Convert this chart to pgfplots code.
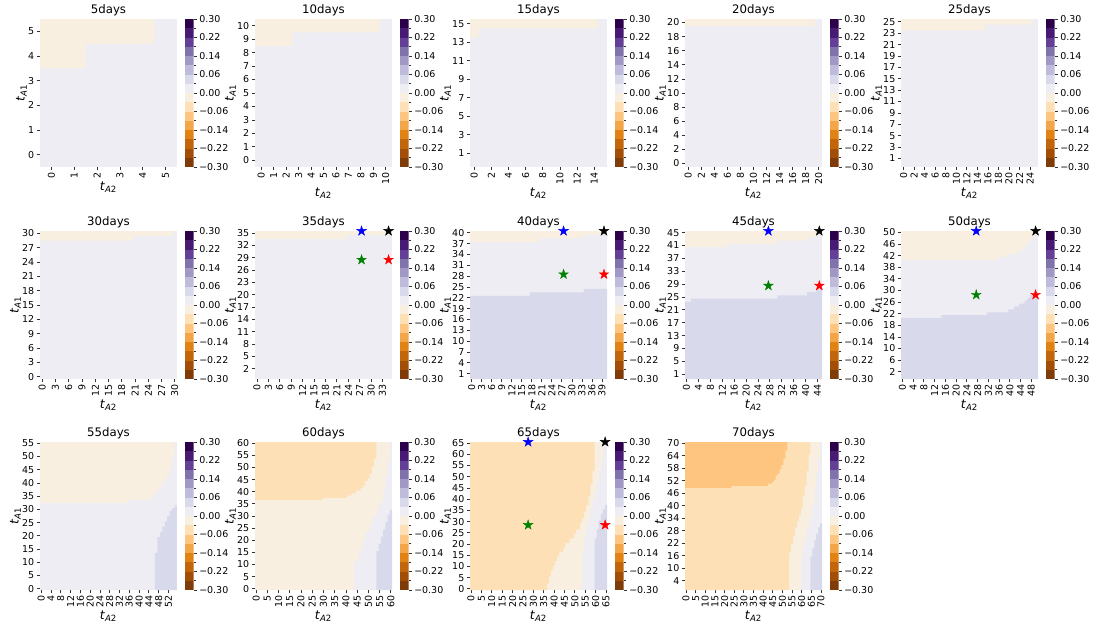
\documentclass[border=0pt]{standalone}
\usepackage{fontspec}
\setmainfont{DejaVu Sans}
\usepackage{pgfplots}
\pgfplotsset{compat=1.18}
% colormap: 16 discrete levels of PuOr, -0.3..0.3
\definecolor{k0}{RGB}{127,59,8}
\definecolor{k1}{RGB}{162,78,7}
\definecolor{k2}{RGB}{194,102,11}
\definecolor{k3}{RGB}{224,130,20}
\definecolor{k4}{RGB}{243,166,73}
\definecolor{k5}{RGB}{253,197,127}
\definecolor{k6}{RGB}{254,224,182}
\definecolor{k7}{RGB}{249,239,225}
\definecolor{k8}{RGB}{237,237,243}
\definecolor{k9}{RGB}{216,218,235}
\definecolor{k10}{RGB}{191,187,218}
\definecolor{k11}{RGB}{161,152,197}
\definecolor{k12}{RGB}{128,115,172}
\definecolor{k13}{RGB}{99,64,149}
\definecolor{k14}{RGB}{71,26,116}
\definecolor{k15}{RGB}{45,0,75}
\newcommand{\tk}{\fontsize{7.1}{8}\selectfont}
\newcommand{\lb}{\fontsize{9.2}{10}\selectfont}
\newcommand{\ti}{\fontsize{8.8}{10}\selectfont}
\newcommand{\ta}[2]{\textit{t}\textsubscript{\textit{#1}#2}}
\pgfdeclareplotmark{fstar}{%
  \pgfpathmoveto{\pgfpointpolar{90}{\pgfplotmarksize}}%
  \pgfpathlineto{\pgfpointpolar{126}{0.382*\pgfplotmarksize}}%
  \pgfpathlineto{\pgfpointpolar{162}{\pgfplotmarksize}}%
  \pgfpathlineto{\pgfpointpolar{198}{0.382*\pgfplotmarksize}}%
  \pgfpathlineto{\pgfpointpolar{234}{\pgfplotmarksize}}%
  \pgfpathlineto{\pgfpointpolar{270}{0.382*\pgfplotmarksize}}%
  \pgfpathlineto{\pgfpointpolar{306}{\pgfplotmarksize}}%
  \pgfpathlineto{\pgfpointpolar{342}{0.382*\pgfplotmarksize}}%
  \pgfpathlineto{\pgfpointpolar{18}{\pgfplotmarksize}}%
  \pgfpathlineto{\pgfpointpolar{54}{0.382*\pgfplotmarksize}}%
  \pgfpathclose\pgfusepathqfillstroke}
\pgfplotsset{
  hm/.style={
    scale only axis, width=102.75pt, height=111pt, anchor=north west,
    enlargelimits=false, clip=false,
    axis background/.style={fill=k8},
    axis line style={draw=none},
    tick align=outside, tick pos=left,
    major tick length=2.6pt,
    tick style={black!80, line width=0.6pt},
    xticklabel style={rotate=90, anchor=east, font=\tk, inner sep=1pt},
    yticklabel style={font=\tk, inner sep=1.5pt},
    /pgf/number format/assume math mode=true,
    xlabel={\ta{A}{2}}, ylabel={\ta{A}{1}},
    label style={font=\lb},
    xlabel style={yshift=2pt}, ylabel style={yshift=-4pt},
    title style={font=\ti, yshift=-7pt},
  },
  reg/.style={draw=none, mark=none, forget plot},
  st/.style={only marks, mark=fstar, mark size=3.8pt, forget plot, mark options={fill=#1, draw=#1, line width=0.3pt}},
  cb/.style={
    scale only axis, width=6.4pt, height=111pt, anchor=north west,
    xmin=0, xmax=1, ymin=-0.3, ymax=0.3, enlargelimits=false,
    xtick=\empty, axis line style={draw=none},
    ytick pos=right, yticklabel pos=right, tick align=outside,
    ytick={-0.3,-0.225,-0.15,-0.075,0,0.075,0.15,0.225,0.3},
    yticklabels={−0.30,−0.22,−0.14,−0.06,0.00,0.06,0.14,0.22,0.30},
    minor ytick={-0.2625,-0.1875,-0.1125,-0.0375,0.0375,0.1125,0.1875,0.2625},
    major tick length=2.6pt, minor tick length=2.2pt,
    tick style={black!80, line width=0.6pt},
    yticklabel style={font=\tk, inner sep=1.5pt},
  },
}
\newcommand{\cbb}{%
\addplot[reg,fill=k0] coordinates {(0,-0.3)(1,-0.3)(1,-0.2625)(0,-0.2625)} --cycle;
\addplot[reg,fill=k1] coordinates {(0,-0.2625)(1,-0.2625)(1,-0.225)(0,-0.225)} --cycle;
\addplot[reg,fill=k2] coordinates {(0,-0.225)(1,-0.225)(1,-0.1875)(0,-0.1875)} --cycle;
\addplot[reg,fill=k3] coordinates {(0,-0.1875)(1,-0.1875)(1,-0.15)(0,-0.15)} --cycle;
\addplot[reg,fill=k4] coordinates {(0,-0.15)(1,-0.15)(1,-0.1125)(0,-0.1125)} --cycle;
\addplot[reg,fill=k5] coordinates {(0,-0.1125)(1,-0.1125)(1,-0.075)(0,-0.075)} --cycle;
\addplot[reg,fill=k6] coordinates {(0,-0.075)(1,-0.075)(1,-0.0375)(0,-0.0375)} --cycle;
\addplot[reg,fill=k7] coordinates {(0,-0.0375)(1,-0.0375)(1,0)(0,0)} --cycle;
\addplot[reg,fill=k8] coordinates {(0,0)(1,0)(1,0.0375)(0,0.0375)} --cycle;
\addplot[reg,fill=k9] coordinates {(0,0.0375)(1,0.0375)(1,0.075)(0,0.075)} --cycle;
\addplot[reg,fill=k10] coordinates {(0,0.075)(1,0.075)(1,0.1125)(0,0.1125)} --cycle;
\addplot[reg,fill=k11] coordinates {(0,0.1125)(1,0.1125)(1,0.15)(0,0.15)} --cycle;
\addplot[reg,fill=k12] coordinates {(0,0.15)(1,0.15)(1,0.1875)(0,0.1875)} --cycle;
\addplot[reg,fill=k13] coordinates {(0,0.1875)(1,0.1875)(1,0.225)(0,0.225)} --cycle;
\addplot[reg,fill=k14] coordinates {(0,0.225)(1,0.225)(1,0.2625)(0,0.2625)} --cycle;
\addplot[reg,fill=k15] coordinates {(0,0.2625)(1,0.2625)(1,0.3)(0,0.3)} --cycle;
}
\begin{document}
\begin{tikzpicture}
\useasboundingbox (0,0) rectangle (820.5pt,-477.75pt);
% ---------------- row 1 ----------------
\begin{axis}[hm, at={(30pt,-14.25pt)}, title={5days}, xmin=-0.5, xmax=5.5, ymin=-0.5, ymax=5.5,
  xtick={0,...,5}, ytick={0,...,5}]
\addplot[reg,fill=k7] coordinates {(-0.5,5.5)(-0.5,3.5)(1.5,3.5)(1.5,4.5)(4.5,4.5)(4.5,5.5)} --cycle;
\end{axis}
\begin{axis}[cb, at={(138.75pt,-14.25pt)}]\cbb\end{axis}

\begin{axis}[hm, at={(191.25pt,-14.25pt)}, title={10days}, xmin=-0.5, xmax=10.5, ymin=-0.5, ymax=10.5,
  xtick={0,...,10}, ytick={0,...,10}]
\addplot[reg,fill=k7] coordinates {(-0.5,10.5)(-0.5,8.5)(2.5,8.5)(2.5,9.5)(9.5,9.5)(9.5,10.5)} --cycle;
\end{axis}
\begin{axis}[cb, at={(300pt,-14.25pt)}]\cbb\end{axis}

\begin{axis}[hm, at={(352.5pt,-14.25pt)}, title={15days}, xmin=-0.5, xmax=15.5, ymin=-0.5, ymax=15.5,
  xtick={0,2,...,14}, ytick={1,3,...,15}]
\addplot[reg,fill=k7] coordinates {(-0.5,15.5)(-0.5,13.5)(0.5,13.5)(0.5,14.5)(14.5,14.5)(14.5,15.5)} --cycle;
\end{axis}
\begin{axis}[cb, at={(461.25pt,-14.25pt)}]\cbb\end{axis}

\begin{axis}[hm, at={(513.75pt,-14.25pt)}, title={20days}, xmin=-0.5, xmax=20.5, ymin=-0.5, ymax=20.5,
  xtick={0,2,...,20}, ytick={0,2,...,20}]
\addplot[reg,fill=k7] coordinates {(-0.5,20.5)(-0.5,19.5)(19.5,19.5)(19.5,20.5)} --cycle;
\end{axis}
\begin{axis}[cb, at={(622.5pt,-14.25pt)}]\cbb\end{axis}

\begin{axis}[hm, at={(675.75pt,-14.25pt)}, title={25days}, xmin=-0.5, xmax=25.5, ymin=-0.5, ymax=25.5,
  xtick={0,2,...,24}, ytick={1,3,...,25}]
\addplot[reg,fill=k7] coordinates {(-0.5,25.5)(-0.5,23.5)(15.5,23.5)(15.5,24.5)(24.5,24.5)(24.5,25.5)} --cycle;
\end{axis}
\begin{axis}[cb, at={(784.5pt,-14.25pt)}]\cbb\end{axis}

% ---------------- row 2 ----------------
\begin{axis}[hm, at={(30pt,-173.25pt)}, title={30days}, xmin=-0.5, xmax=30.5, ymin=-0.5, ymax=30.5,
  xtick={0,3,...,30}, ytick={0,3,...,30}]
\addplot[reg,fill=k7] coordinates {(-0.5,30.5)(-0.5,28.5)(20.5,28.5)(20.5,29.5)(29.5,29.5)(29.5,30.5)} --cycle;
\end{axis}
\begin{axis}[cb, at={(138.75pt,-173.25pt)}]\cbb\end{axis}

\begin{axis}[hm, at={(191.25pt,-173.25pt)}, title={35days}, xmin=-0.5, xmax=35.5, ymin=-0.5, ymax=35.5,
  xtick={0,3,...,33}, ytick={2,5,...,35}]
\addplot[reg,fill=k7] coordinates {(-0.5,35.5)(-0.5,33.5)(23.5,33.5)(23.5,34.5)(34.5,34.5)(34.5,35.5)} --cycle;
\addplot[st=blue] coordinates {(27.5,35.5)};
\addplot[st=green!50!black] coordinates {(27.5,28.5)};
\addplot[st=red] coordinates {(34.6,28.5)};
\addplot[st=black] coordinates {(34.6,35.5)};
\end{axis}
\begin{axis}[cb, at={(300pt,-173.25pt)}]\cbb\end{axis}

\begin{axis}[hm, at={(352.5pt,-173.25pt)}, title={40days}, xmin=-0.5, xmax=40.5, ymin=-0.5, ymax=40.5,
  xtick={0,3,...,39}, ytick={1,4,...,40}]
\addplot[reg,fill=k7] coordinates {(-0.5,40.5)(-0.5,37.5)(20.5,37.5)(20.5,38.5)(33.5,38.5)(33.5,39.5)(39.5,39.5)(39.5,40.5)} --cycle;
\addplot[reg,fill=k9] coordinates {(-0.5,-0.5)(-0.5,22.5)(17.5,22.5)(17.5,23.5)(33.5,23.5)(33.5,24.5)(40.5,24.5)(40.5,-0.5)} --cycle;
\addplot[st=blue] coordinates {(27.5,40.5)};
\addplot[st=green!50!black] coordinates {(27.5,28.5)};
\addplot[st=red] coordinates {(39.6,28.5)};
\addplot[st=black] coordinates {(39.6,40.5)};
\end{axis}
\begin{axis}[cb, at={(461.25pt,-173.25pt)}]\cbb\end{axis}

\begin{axis}[hm, at={(513.75pt,-173.25pt)}, title={45days}, xmin=-0.5, xmax=45.5, ymin=-0.5, ymax=45.5,
  xtick={0,4,...,44}, ytick={1,5,...,45}]
\addplot[reg,fill=k7] coordinates {(-0.5,40.5)(13.5,40.5)(13.5,41.5)(30.5,41.5)(30.5,42.5)(40.5,42.5)(40.5,43.5)(43.5,43.5)(43.5,44.5)(44.5,44.5)(44.5,45.5)(-0.5,45.5)} --cycle;
\addplot[reg,fill=k9] coordinates {(-0.5,-0.5)(-0.5,23.5)(1.5,23.5)(1.5,24.5)(30.5,24.5)(30.5,25.5)(40.5,25.5)(40.5,26.5)(43.5,26.5)(43.5,27.5)(45.5,27.5)(45.5,-0.5)} --cycle;
\addplot[st=blue] coordinates {(27.5,45.5)};
\addplot[st=green!50!black] coordinates {(27.5,28.5)};
\addplot[st=red] coordinates {(44.6,28.5)};
\addplot[st=black] coordinates {(44.6,45.5)};
\end{axis}
\begin{axis}[cb, at={(622.5pt,-173.25pt)}]\cbb\end{axis}

\begin{axis}[hm, at={(675.75pt,-173.25pt)}, title={50days}, xmin=-0.5, xmax=50.5, ymin=-0.5, ymax=50.5,
  xtick={0,4,...,48}, ytick={2,6,...,50}]
\addplot[reg,fill=k7] coordinates {(-0.5,40.5)(35.5,40.5)(35.5,41.5)(39.5,41.5)(39.5,42.5)(42.5,42.5)(42.5,43.5)(44.5,43.5)(44.5,44.5)(45.5,44.5)(45.5,45.5)(46.5,45.5)(46.5,46.5)(47.5,46.5)(47.5,47.5)(48.5,47.5)(48.5,48.5)(49.5,48.5)(49.5,50.5)(-0.5,50.5)} --cycle;
\addplot[reg,fill=k9] coordinates {(-0.5,-0.5)(-0.5,20.5)(14.5,20.5)(14.5,21.5)(31.5,21.5)(31.5,22.5)(39.5,22.5)(39.5,23.5)(41.5,23.5)(41.5,24.5)(43.5,24.5)(43.5,25.5)(45.5,25.5)(45.5,26.5)(46.5,26.5)(46.5,27.5)(47.5,27.5)(47.5,28.5)(49.5,28.5)(49.5,29.5)(50.5,29.5)(50.5,-0.5)} --cycle;
\addplot[st=blue] coordinates {(27.5,50.5)};
\addplot[st=green!50!black] coordinates {(27.5,28.5)};
\addplot[st=red] coordinates {(49.6,28.5)};
\addplot[st=black] coordinates {(49.6,50.5)};
\end{axis}
\begin{axis}[cb, at={(784.5pt,-173.25pt)}]\cbb\end{axis}

% ---------------- row 3 ----------------
\begin{axis}[hm, at={(30pt,-331.5pt)}, title={55days}, xmin=-0.5, xmax=55.5, ymin=-0.5, ymax=55.5,
  xtick={0,4,...,52}, ytick={0,5,...,55}]
\addplot[reg,fill=k7] coordinates {(-0.5,32.5)(35.5,32.5)(35.5,33.5)(44.5,33.5)(44.5,34.5)(45.5,34.5)(45.5,35.5)(46.5,35.5)(46.5,36.5)(47.5,36.5)(47.5,37.5)(48.5,37.5)(48.5,38.5)(49.5,38.5)(49.5,40.5)(50.5,40.5)(50.5,41.5)(51.5,41.5)(51.5,43.5)(52.5,43.5)(52.5,46.5)(53.5,46.5)(53.5,50.5)(54.5,50.5)(54.5,55.5)(-0.5,55.5)} --cycle;
\addplot[reg,fill=k9] coordinates {(46.5,-0.5)(46.5,13.5)(47.5,13.5)(47.5,19.5)(48.5,19.5)(48.5,21.5)(49.5,21.5)(49.5,23.5)(50.5,23.5)(50.5,25.5)(51.5,25.5)(51.5,27.5)(52.5,27.5)(52.5,29.5)(53.5,29.5)(53.5,30.5)(54.5,30.5)(54.5,31.5)(55.5,31.5)(55.5,-0.5)} --cycle;
\end{axis}
\begin{axis}[cb, at={(138.75pt,-331.5pt)}]\cbb\end{axis}

\begin{axis}[hm, at={(191.25pt,-331.5pt)}, title={60days}, xmin=-0.5, xmax=60.5, ymin=-0.5, ymax=60.5,
  xtick={0,5,...,60}, ytick={0,5,...,60}]
\addplot[reg,fill=k7] coordinates {(-0.5,-0.5)(43.5,-0.5)(43.5,11.5)(45.5,11.5)(45.5,14.5)(46.5,14.5)(46.5,17.5)(47.5,17.5)(47.5,20.5)(48.5,20.5)(48.5,23.5)(50.5,23.5)(50.5,26.5)(51.5,26.5)(51.5,29.5)(53.5,29.5)(53.5,32.5)(54.5,32.5)(54.5,35.5)(56.5,35.5)(56.5,40.5)(57.5,40.5)(57.5,46.5)(58.5,46.5)(58.5,52.5)(59.5,52.5)(59.5,60.5)(-0.5,60.5)} --cycle;
\addplot[reg,fill=k6] coordinates {(-0.5,36.5)(29.5,36.5)(29.5,37.5)(40.5,37.5)(40.5,38.5)(42.5,38.5)(42.5,39.5)(44.5,39.5)(44.5,40.5)(46.5,40.5)(46.5,41.5)(47.5,41.5)(47.5,42.5)(48.5,42.5)(48.5,44.5)(49.5,44.5)(49.5,45.5)(50.5,45.5)(50.5,47.5)(51.5,47.5)(51.5,50.5)(52.5,50.5)(52.5,53.5)(53.5,53.5)(53.5,60.5)(-0.5,60.5)} --cycle;
\addplot[reg,fill=k9] coordinates {(53.5,-0.5)(53.5,15.5)(54.5,15.5)(54.5,18.5)(55.5,18.5)(55.5,21.5)(56.5,21.5)(56.5,24.5)(57.5,24.5)(57.5,27.5)(58.5,27.5)(58.5,30.5)(59.5,30.5)(59.5,32.5)(60.5,32.5)(60.5,-0.5)} --cycle;
\end{axis}
\begin{axis}[cb, at={(300pt,-331.5pt)}]\cbb\end{axis}

\begin{axis}[hm, at={(352.5pt,-331.5pt)}, title={65days}, xmin=-0.5, xmax=65.5, ymin=-0.5, ymax=65.5,
  xtick={0,5,...,65}, ytick={0,5,...,65}]
\addplot[reg,fill=k7] coordinates {(-0.5,-0.5)(53.5,-0.5)(53.5,16.5)(54.5,16.5)(54.5,22.5)(55.5,22.5)(55.5,27.5)(56.5,27.5)(56.5,31.5)(57.5,31.5)(57.5,35.5)(58.5,35.5)(58.5,39.5)(59.5,39.5)(59.5,43.5)(60.5,43.5)(60.5,47.5)(61.5,47.5)(61.5,52.5)(62.5,52.5)(62.5,57.5)(63.5,57.5)(63.5,65.5)(-0.5,65.5)} --cycle;
\addplot[reg,fill=k6] coordinates {(-0.5,-0.5)(36.5,-0.5)(36.5,2.5)(37.5,2.5)(37.5,5.5)(38.5,5.5)(38.5,8.5)(39.5,8.5)(39.5,10.5)(40.5,10.5)(40.5,12.5)(41.5,12.5)(41.5,14.5)(42.5,14.5)(42.5,16.5)(44.5,16.5)(44.5,18.5)(45.5,18.5)(45.5,20.5)(47.5,20.5)(47.5,22.5)(49.5,22.5)(49.5,24.5)(50.5,24.5)(50.5,26.5)(52.5,26.5)(52.5,29.5)(53.5,29.5)(53.5,31.5)(54.5,31.5)(54.5,34.5)(55.5,34.5)(55.5,37.5)(56.5,37.5)(56.5,41.5)(57.5,41.5)(57.5,46.5)(58.5,46.5)(58.5,52.5)(59.5,52.5)(59.5,65.5)(-0.5,65.5)} --cycle;
\addplot[reg,fill=k9] coordinates {(59.5,-0.5)(59.5,22.5)(60.5,22.5)(60.5,26.5)(61.5,26.5)(61.5,30.5)(62.5,30.5)(62.5,33.5)(63.5,33.5)(63.5,35.5)(64.5,35.5)(64.5,37.5)(65.5,37.5)(65.5,-0.5)} --cycle;
\addplot[st=blue] coordinates {(27.5,65.5)};
\addplot[st=green!50!black] coordinates {(27.5,28.5)};
\addplot[st=red] coordinates {(64.6,28.5)};
\addplot[st=black] coordinates {(64.6,65.5)};
\end{axis}
\begin{axis}[cb, at={(461.25pt,-331.5pt)}]\cbb\end{axis}

\begin{axis}[hm, at={(513.75pt,-331.5pt)}, title={70days}, xmin=-0.5, xmax=70.5, ymin=-0.5, ymax=70.5,
  xtick={0,5,...,70}, ytick={4,10,...,70}]
\addplot[reg,fill=k7] coordinates {(-0.5,-0.5)(59.5,-0.5)(59.5,15.5)(60.5,15.5)(60.5,20.5)(61.5,20.5)(61.5,24.5)(62.5,24.5)(62.5,28.5)(63.5,28.5)(63.5,31.5)(64.5,31.5)(64.5,35.5)(65.5,35.5)(65.5,40.5)(66.5,40.5)(66.5,47.5)(67.5,47.5)(67.5,55.5)(68.5,55.5)(68.5,62.5)(69.5,62.5)(69.5,70.5)(-0.5,70.5)} --cycle;
\addplot[reg,fill=k6] coordinates {(-0.5,-0.5)(53.5,-0.5)(53.5,17.5)(54.5,17.5)(54.5,21.5)(55.5,21.5)(55.5,25.5)(56.5,25.5)(56.5,29.5)(57.5,29.5)(57.5,32.5)(58.5,32.5)(58.5,35.5)(59.5,35.5)(59.5,38.5)(60.5,38.5)(60.5,44.5)(61.5,44.5)(61.5,49.5)(62.5,49.5)(62.5,56.5)(63.5,56.5)(63.5,64.5)(64.5,64.5)(64.5,70.5)(-0.5,70.5)} --cycle;
\addplot[reg,fill=k5] coordinates {(-0.5,48.5)(23.5,48.5)(23.5,49.5)(42.5,49.5)(42.5,50.5)(44.5,50.5)(44.5,51.5)(45.5,51.5)(45.5,52.5)(46.5,52.5)(46.5,54.5)(47.5,54.5)(47.5,55.5)(48.5,55.5)(48.5,57.5)(49.5,57.5)(49.5,59.5)(50.5,59.5)(50.5,62.5)(51.5,62.5)(51.5,66.5)(52.5,66.5)(52.5,70.5)(-0.5,70.5)} --cycle;
\addplot[reg,fill=k9] coordinates {(64.5,-0.5)(64.5,15.5)(65.5,15.5)(65.5,19.5)(66.5,19.5)(66.5,23.5)(67.5,23.5)(67.5,26.5)(68.5,26.5)(68.5,29.5)(69.5,29.5)(69.5,31.5)(70.5,31.5)(70.5,-0.5)} --cycle;
\end{axis}
\begin{axis}[cb, at={(622.5pt,-331.5pt)}]\cbb\end{axis}
\end{tikzpicture}
\end{document}
